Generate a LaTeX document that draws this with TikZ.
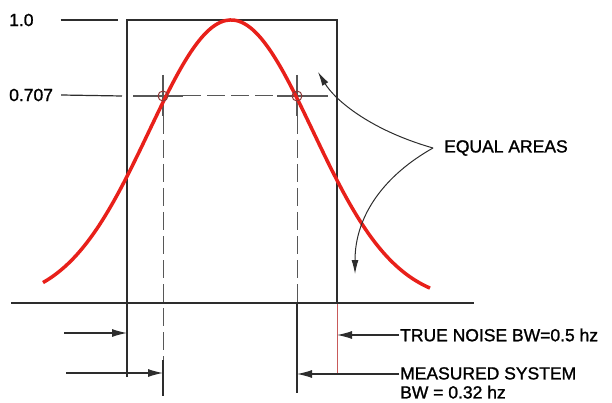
\documentclass[tikz,border=0pt]{standalone}
\usepackage{fontspec}
\setmainfont{Liberation Sans}
\newfontfamily\lettering{Liberation Sans}[FakeBold=1.3]
\usepackage{xcolor}
\usepackage{tikz}
\usetikzlibrary{arrows.meta}
\definecolor{curvered}{RGB}{232,32,26}
\definecolor{inkgray}{RGB}{45,45,45}
\definecolor{markbrown}{RGB}{140,55,55}
\definecolor{edgered}{RGB}{200,90,90}

\begin{document}
\begin{tikzpicture}[x=1pt, y=-1pt, every node/.style={font=\lettering\fontsize{17.5}{19}\selectfont, inner sep=0pt, text=black},
  frame/.style={draw=inkgray, line width=1.2pt},
  guide/.style={draw=inkgray!80, line width=1pt, dash pattern=on 18pt off 6pt},
  response/.style={draw=curvered, line width=3.5pt},
  halfpt/.style={draw=markbrown, line width=1pt},
  dimarrow/.style={-{Latex[length=15pt,width=8pt]}, draw=inkgray, line width=1.2pt},
  curvearrow/.style={-{Latex[length=14pt,width=7pt]}, draw=inkgray, line width=1pt}
]
\useasboundingbox (0,0) rectangle (612,403);

\coordinate (tl) at (127,20);
\coordinate (tr) at (337,20);
\coordinate (bl) at (127,377);
\coordinate (br) at (337,303);
\coordinate (brlow) at (337,375);
\coordinate (p1) at (163,96);
\coordinate (p2) at (297,96);
\coordinate (axl) at (11,303);
\coordinate (axr) at (474,303);

\node[anchor=west] (lblone) at (9,20) {1.0};
\node[anchor=west] (lblseven) at (9,95) {0.707};
\node[anchor=west] (areas) at (444,148) {EQUAL AREAS};
\node[anchor=west] (truebw) at (400,335) {TRUE NOISE BW=0.5 hz};
\node[anchor=north west, align=left] (measbw) at (400,367) {MEASURED SYSTEM\\BW = 0.32 hz};

% rectangle of equal area
\draw[frame] ([xshift=27pt]lblone.east) -- ([xshift=-9pt]tl);
\draw[frame] ([xshift=8pt]lblseven.east) -- ([xshift=-5pt]tl |- p1);
\draw[frame] (bl) -- (tl) -- (tr) -- (br);
\draw[draw=edgered, line width=1pt] (br) -- (brlow);
\draw[inkgray, line width=1.8pt] (axl) -- (axr);

% half power points
\draw[frame, draw=inkgray!80] ([xshift=-30pt]p1) -- ([xshift=20pt]p1);
\draw[frame, draw=inkgray!80] ([xshift=-20pt]p2) -- ([xshift=31pt]p2);
\draw[frame, draw=inkgray!80] ([yshift=21pt]p1) -- ([yshift=-20pt]p1);
\draw[frame, draw=inkgray!80] ([yshift=21pt]p2) -- ([yshift=-20pt]p2);
\draw[guide] ([xshift=20pt]p1) -- ([xshift=-20pt]p2);
\draw[guide] ([yshift=-20pt]p1) -- (163,360);
\draw[frame] (163,360) -- (163,396);
\draw[guide] ([yshift=-20pt]p2) -- (p2 |- axl);
\draw[frame] (p2 |- axl) -- (297,393);

\draw[response] plot[domain=-188:199, samples=90, smooth] ({231+\x},{303-283*exp(-0.5*(\x/82)*(\x/82))});

\draw[halfpt] (p1) circle (5pt);
\draw[halfpt] (p2) circle (5pt);

% bandwidth arrows
\coordinate (a1s) at (64,333);
\coordinate (a2s) at (66,373);
\draw[dimarrow] (a1s) -- (a1s -| tl);
\draw[dimarrow] (a2s) -- (a2s -| p1);
\draw[dimarrow] ([xshift=-1pt]truebw.west) -- (truebw.west -| tr);
\draw[dimarrow] ([xshift=-1pt,yshift=-7pt]measbw.north west) -- ([yshift=-7pt]measbw.north west -| p2);

\coordinate (upa) at (318,72);
\coordinate (downa) at (355,274);
\draw[curvearrow] ([xshift=-11pt]areas.west) .. controls (370,130) and (335,100) .. (upa);
\draw[curvearrow] ([xshift=-11pt]areas.west) .. controls (385,175) and (355,215) .. (downa);
\end{tikzpicture}
\end{document}
